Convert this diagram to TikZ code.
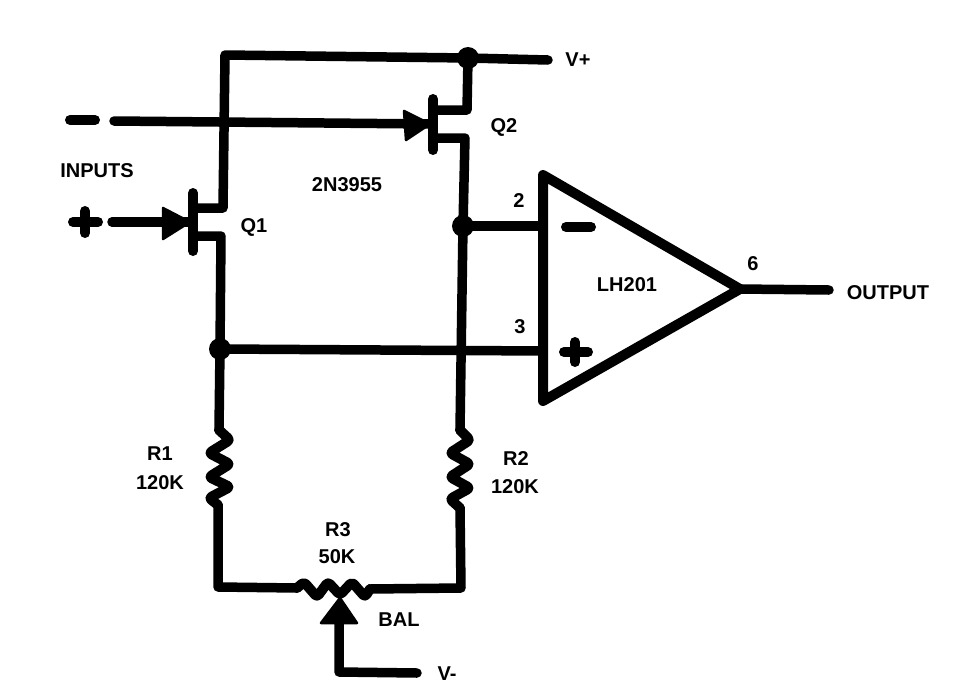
\documentclass[tikz,border=0pt]{standalone}
\usepackage{fontspec}
\setmainfont{Liberation Sans}
\tikzset{
  wire/.style={line width=9.5pt,line cap=round,line join=round,black},
  zigwire/.style={line width=10pt,line cap=round,line join=round,rounded corners=3pt,black},
  opbox/.style={line width=10pt,line join=round,black},
  solid tri/.style={fill=black,draw=black,line width=2.5pt,line join=round},
  dotn/.style={circle,fill=black,inner sep=0pt,minimum size=22pt},
  lab/.style={font=\fontsize{20}{22}\selectfont\bfseries,inner sep=0pt,text=black,align=center},
  sign/.style={line width=10pt,line cap=round,black}
}
\begin{document}
\begin{tikzpicture}[x=1pt,y=-1pt]
\useasboundingbox (0,0) rectangle (954,689);
% junctions
\node[dotn] (jtop) at (468,58) {};
\node[dotn] (jq2) at (463,226) {};
\node[dotn] (jq1) at (220,349) {};
\coordinate (tl) at (225,55);
\coordinate (vplus) at (548,60);
\coordinate (q1d) at (223,208);
\coordinate (q1dg) at (193,208);
\coordinate (q1s) at (221,236);
\coordinate (q1sg) at (193,236);
\coordinate (q1t) at (193,193);
\coordinate (q1b) at (193,251);
\coordinate (q2d) at (467,110);
\coordinate (q2dg) at (433,110);
\coordinate (q2s) at (465,138);
\coordinate (q2sg) at (433,138);
\coordinate (q2t) at (433,99);
\coordinate (q2b) at (433,150);
\coordinate (q1gate) at (190,222);
\coordinate (q2gate) at (430,124);
\coordinate (inm) at (114,121);
\coordinate (inp) at (112,222);
\coordinate (oa) at (543,175);
\coordinate (ob) at (543,401);
\coordinate (oc) at (740,289);
\coordinate (oin2) at (543,226);
\coordinate (oin3) at (543,351);
\coordinate (outp) at (829,290);
\coordinate (r1a) at (219,430);
\coordinate (r1b) at (218,505);
\coordinate (r2a) at (460,430);
\coordinate (r2b) at (460,508);
\coordinate (bl) at (218,587);
\coordinate (br) at (461,588);
\coordinate (r3a) at (297,588);
\coordinate (r3b) at (370,589);
\coordinate (wip) at (339,624);
\coordinate (wipc) at (339,672);
\coordinate (vminus) at (417,673);
% wires
\draw[wire] (q1dg) -- (q1d) -- (tl) -- (jtop.center) -- (vplus);
\draw[wire] (jtop.center) -- (q2d) -- (q2dg);
\draw[wire] (q2sg) -- (q2s) -- (jq2.center) -- (r2a);
\draw[wire] (q1sg) -- (q1s) -- (jq1.center) -- (r1a);
\draw[wire] (jq2.center) -- (oin2);
\draw[wire] (jq1.center) -- (oin3);
\draw[wire] (inm) -- (q2gate);
\draw[wire] (inp) -- (q1gate);
\draw[wire] (oc) -- (outp);
\draw[wire] (r1b) -- (bl) -- (r3a);
\draw[wire] (r3b) -- (br) -- (r2b);
\draw[wire] (wip) -- (wipc) -- (vminus);
% gates
\draw[line width=10pt,line cap=round] (q1t) -- (q1b);
\draw[line width=10pt,line cap=round] (q2t) -- (q2b);
\draw[solid tri] (163,208) -- (163,239) -- (q1gate) -- cycle;
\draw[solid tri] (404,111) -- (406,140) -- (q2gate) -- cycle;
% resistors
\draw[zigwire] (r1a) -- (230,440) -- (209,453) -- (230,464) -- (209,477) -- (230,487) -- (209,498) -- (r1b);
\draw[zigwire] (r2a) -- (470,440) -- (450,453) -- (470,464) -- (450,477) -- (470,488) -- (450,499) -- (r2b);
\draw[zigwire] (r3a) -- (304,582) -- (317,597) -- (328,582) -- (340,595) -- (352,582) -- (365,597) -- (r3b);
\draw[solid tri] (340,598) -- (321,623) -- (357,623) -- cycle;
% op amp
\draw[opbox] (oa) -- (ob) -- (oc) -- cycle;
% signs
\draw[sign] (70,120) -- (95,120);
\draw[sign] (73,222) -- (98,222);
\draw[sign] (85,211) -- (85,233);
\draw[sign] (566,227) -- (591,227);
\draw[sign] (564,352) -- (588,352);
\draw[sign] (575,342) -- (575,362);
% labels
\node[lab] (tinputs) at (97,171) {INPUTS};
\node[lab] (t2n) at (347,185) {2N3955};
\node[lab] (tq1) at (254,227) {Q1};
\node[lab] (tq2) at (504,127) {Q2};
\node[lab] (tvp) at (578,60) {V+};
\node[lab] (t2) at (519,201) {2};
\node[lab] (t3) at (520,327) {3};
\node[lab] (t6) at (753,264) {6};
\node[lab] (tlh) at (627,285) {LH201};
\node[lab] (tout) at (888,293) {OUTPUT};
\node[lab] (tr1) at (160,454) {R1};
\node[lab] (tr1v) at (160,483) {120K};
\node[lab] (tr2) at (516,459) {R2};
\node[lab] (tr2v) at (515,487) {120K};
\node[lab] (tr3) at (338,530) {R3};
\node[lab] (tr3v) at (337,557) {50K};
\node[lab] (tbal) at (399,620) {BAL};
\node[lab] (tvm) at (447,674) {V-};
\end{tikzpicture}
\end{document}
